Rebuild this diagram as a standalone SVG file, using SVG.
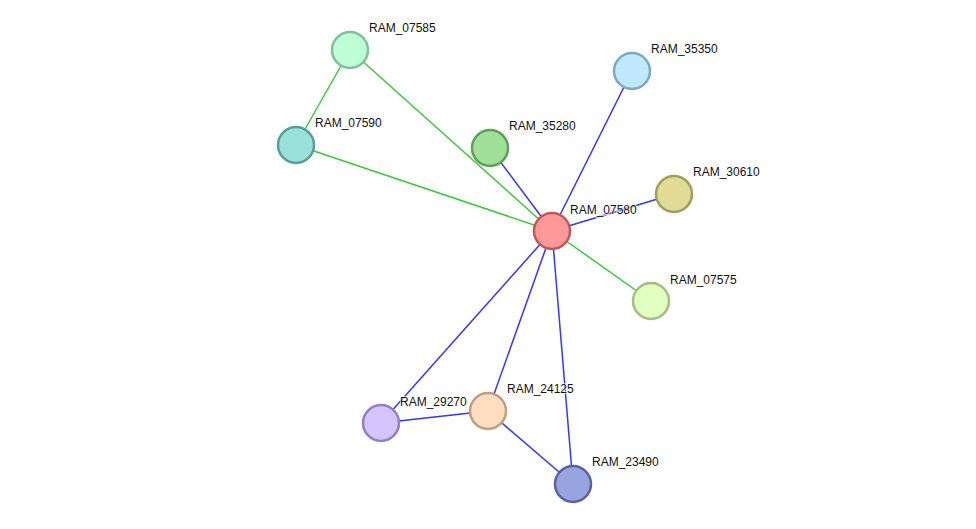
<svg xmlns="http://www.w3.org/2000/svg" width="976" height="529" viewBox="0 0 976 529">
<style>
.g{stroke:#3cc83c;stroke-width:1.5;fill:none}
.b{stroke:#3535f5;stroke-width:1.5;fill:none}
circle{stroke-width:2.5}
text{font-family:"Liberation Sans",Arial,sans-serif;font-size:12px;fill:#111;stroke:#fff;stroke-width:2;stroke-opacity:0.7;paint-order:stroke}
</style>
<rect width="976" height="529" fill="#fff"/>
<g id="edges">
<line class="g" x1="350" y1="50" x2="296" y2="145"/>
<line class="g" x1="350" y1="50" x2="552" y2="231"/>
<line class="g" x1="296" y1="145" x2="552" y2="231"/>
<line class="g" x1="552" y1="231" x2="651" y2="301"/>
<line class="b" x1="490" y1="148" x2="552" y2="231"/>
<line class="b" x1="632" y1="71" x2="552" y2="231"/>
<line class="b" x1="674" y1="194" x2="552" y2="231"/>
<line class="b" x1="552" y1="231" x2="381" y2="423"/>
<line class="b" x1="552" y1="231" x2="488" y2="411"/>
<line class="b" x1="552" y1="231" x2="573" y2="484"/>
<line class="b" x1="381" y1="423" x2="488" y2="411"/>
<line class="b" x1="488" y1="411" x2="573" y2="484"/>
</g>
<g id="RAM_07585"><circle cx="350" cy="50" r="18" fill="#bfffd8" stroke="#7fc09a"/><text x="369" y="32">RAM_07585</text></g>
<g id="RAM_07590"><circle cx="296" cy="145" r="18" fill="#99e0d8" stroke="#5a9d96"/><text x="315" y="127">RAM_07590</text></g>
<g id="RAM_35280"><circle cx="490" cy="148" r="18" fill="#a0e098" stroke="#5f9f58"/><text x="509" y="130">RAM_35280</text></g>
<g id="RAM_35350"><circle cx="632" cy="71" r="18" fill="#c0e8ff" stroke="#7ea8c0"/><text x="651" y="53">RAM_35350</text></g>
<g id="RAM_30610"><circle cx="674" cy="194" r="18" fill="#e0dc98" stroke="#a09e58"/><text x="693" y="176">RAM_30610</text></g>
<g id="RAM_07580"><circle cx="552" cy="231" r="18" fill="#ff9898" stroke="#c05858"/><text x="570" y="214">RAM_07580</text></g>
<g id="RAM_07575"><circle cx="651" cy="301" r="18" fill="#e0ffc0" stroke="#a0bf80"/><text x="670" y="284">RAM_07575</text></g>
<g id="RAM_29270"><circle cx="381" cy="423" r="18" fill="#d4c4ff" stroke="#9480c0"/><text x="400" y="406">RAM_29270</text></g>
<g id="RAM_24125"><circle cx="488" cy="411" r="18" fill="#ffdec0" stroke="#bf9e80"/><text x="507" y="393">RAM_24125</text></g>
<g id="RAM_23490"><circle cx="573" cy="484" r="18" fill="#98a4e0" stroke="#5864a0"/><text x="592" y="466">RAM_23490</text></g>
</svg>
